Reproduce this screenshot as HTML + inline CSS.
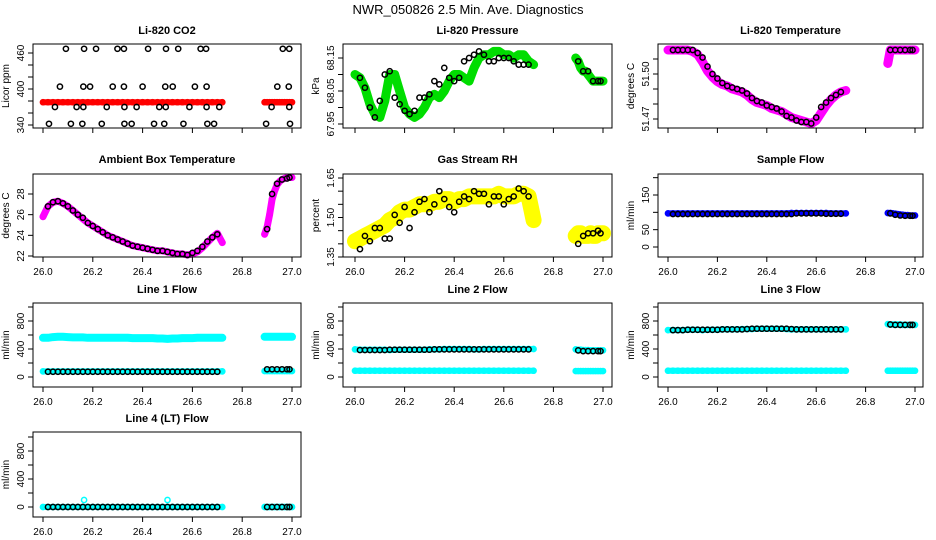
<!DOCTYPE html>
<html><head><meta charset="utf-8">
<style>
body{margin:0;background:#fff;}
svg{display:block;font-family:"Liberation Sans",sans-serif;}
</style></head>
<body>
<svg id="chart" width="936" height="540" viewBox="0 0 936 540" xmlns="http://www.w3.org/2000/svg">
<rect width="936" height="540" fill="#fff"/>
<text x="468" y="14" text-anchor="middle" font-size="13">NWR_050826  2.5 Min. Ave. Diagnostics</text>
</svg>
<script>
// shared time arrays
const timesC = [26.00,26.02,26.04,26.06,26.08,26.10,26.12,26.14,26.16,26.18,26.20,26.22,26.24,26.26,26.28,26.30,26.32,26.34,26.36,26.38,26.40,26.42,26.44,26.46,26.48,26.50,26.52,26.54,26.56,26.58,26.60,26.62,26.64,26.66,26.68,26.70,26.72,
  26.89,26.90,26.91,26.92,26.93,26.94,26.95,26.96,26.97,26.98,26.99,27.00];
const timesB = [26.02,26.04,26.06,26.08,26.10,26.12,26.14,26.16,26.18,26.20,26.22,26.24,26.26,26.28,26.30,26.32,26.34,26.36,26.38,26.40,26.42,26.44,26.46,26.48,26.50,26.52,26.54,26.56,26.58,26.60,26.62,26.64,26.66,26.68,26.70,
  26.90,26.92,26.94,26.96,26.98,26.99];
const xTicks = [26.0,26.2,26.4,26.6,26.8,27.0];
const xTickLabels = ["26.0","26.2","26.4","26.6","26.8","27.0"];

// CO2
const co2Colored = [378,378,378,378,378,378,378,378,378,378,378,378,378,378,378,378,378,378,378,378,378,378,378,378,378,378,378,378,378,378,378,378,378,378,378,378,378, 378,378,378,378,378,378,378,378,378,378,378,378];
const co2BlackT = [26.092,26.165,26.213,26.299,26.325,26.422,26.494,26.543,26.633,26.655,26.963,26.989,
  26.068,26.162,26.189,26.280,26.325,26.400,26.491,26.521,26.610,26.657,26.941,26.987,
  26.048,26.135,26.162,26.256,26.327,26.376,26.467,26.493,26.588,26.657,26.708,26.918,26.989,
  26.024,26.112,26.158,26.236,26.327,26.356,26.446,26.487,26.564,26.660,26.687,26.896,26.992];
const co2BlackV = [467,467,467,467,467,467,467,467,467,467,467,467,
  404,404,404,404,404,404,404,404,404,404,404,404,
  370,370,370,370,370,370,370,370,370,370,370,370,370,
  342,342,342,342,342,342,342,342,342,342,342,342,342];
// Pressure
const presColored = [68.10,68.09,68.06,68.01,67.98,67.97,68.02,68.10,68.10,68.05,68.00,67.98,67.97,67.98,68.00,68.03,68.04,68.03,68.05,68.08,68.10,68.10,68.09,68.08,68.12,68.15,68.16,68.16,68.17,68.17,68.16,68.16,68.15,68.16,68.16,68.14,68.13,
  68.15,68.14,68.12,68.11,68.11,68.10,68.09,68.08,68.08,68.08,68.08,68.08];
const presBlack = [68.09,68.06,68.00,67.97,68.02,68.10,68.11,68.03,68.01,67.99,67.98,67.99,68.03,68.03,68.04,68.08,68.07,68.12,68.09,68.08,68.09,68.14,68.15,68.16,68.17,68.16,68.14,68.14,68.15,68.15,68.15,68.14,68.13,68.13,68.13,
  68.14,68.11,68.11,68.08,68.08,68.08];
// Li-820 temperature
const tempColored = [51.516,51.516,51.516,51.516,51.516,51.515,51.513,51.508,51.502,51.498,51.495,51.493,51.492,51.490,51.489,51.488,51.486,51.483,51.481,51.480,51.479,51.477,51.476,51.475,51.473,51.471,51.470,51.469,51.468,51.467,51.469,51.474,51.479,51.483,51.486,51.488,51.489,
  51.507,51.516,51.516,51.516,51.516,51.516,51.516,51.516,51.516,51.516,51.516,51.516];
const tempBlack = [51.516,51.516,51.516,51.516,51.516,51.514,51.511,51.505,51.500,51.497,51.494,51.492,51.491,51.490,51.489,51.487,51.484,51.482,51.481,51.479,51.478,51.477,51.475,51.472,51.471,51.469,51.468,51.468,51.467,51.471,51.478,51.481,51.484,51.486,51.488,
  51.516,51.516,51.516,51.516,51.516,51.516];
// Ambient box temperature
const ambColored = [25.8,26.8,27.2,27.3,27.1,26.8,26.4,26.0,25.6,25.2,24.9,24.6,24.3,24.0,23.8,23.6,23.4,23.2,23.0,22.9,22.8,22.7,22.6,22.5,22.5,22.4,22.3,22.2,22.2,22.1,22.2,22.4,22.8,23.3,23.8,24.2,23.3,
  24.1,24.8,26.0,27.5,28.3,28.9,29.2,29.4,29.5,29.6,29.6,29.6];
const ambBlack = [26.8,27.2,27.3,27.1,26.8,26.4,26.0,25.7,25.2,24.9,24.6,24.3,24.0,23.8,23.6,23.4,23.2,23.0,22.9,22.8,22.7,22.6,22.5,22.5,22.4,22.3,22.2,22.2,22.1,22.3,22.5,22.9,23.4,23.8,24.1,
  24.6,28.0,29.0,29.4,29.5,29.6];
// Gas stream RH
const rhColored = [1.41,1.42,1.43,1.44,1.45,1.46,1.47,1.49,1.50,1.52,1.53,1.53,1.54,1.55,1.55,1.55,1.56,1.56,1.57,1.57,1.56,1.57,1.57,1.58,1.58,1.58,1.58,1.58,1.58,1.59,1.58,1.58,1.58,1.59,1.59,1.58,1.49,
  1.43,1.44,1.44,1.43,1.43,1.43,1.44,1.43,1.43,1.44,1.44,1.44];
const rhBlack = [1.38,1.43,1.41,1.46,1.46,1.42,1.42,1.51,1.48,1.54,1.46,1.52,1.56,1.57,1.52,1.55,1.60,1.57,1.54,1.52,1.56,1.58,1.57,1.60,1.59,1.59,1.55,1.58,1.58,1.55,1.57,1.58,1.61,1.60,1.58,
  1.40,1.43,1.44,1.44,1.45,1.44];
// Sample flow
const sampleColored = [97,97,97,97,97,97,97,97,97,97,97,97,97,97,97,97,97,97,97,97,97,97,97,97,97,98,98,98,98,98,98,98,98,97,97,97,97,
  98,98,97,96,95,94,93,92,92,91,91,91];
const sampleBlack = [95,95,95,95,95,95,95,95,95,95,95,95,95,95,95,95,95,95,95,95,95,95,95,95,95,97,97,97,97,97,97,96,96,96,96,
  97,93,91,90,90,90];
// Line flows (colored high / colored low / black)
const line1High = [560,560,570,575,575,570,565,565,565,560,560,560,560,560,560,560,560,560,555,555,555,555,555,550,550,545,550,550,555,555,555,560,560,560,560,560,560,
  575,575,575,575,575,575,575,575,575,575,575,575];
const line1Low = [80,80,80,80,80,80,80,80,80,80,80,80,80,80,80,80,80,80,80,80,80,80,80,80,80,80,80,80,80,80,80,80,80,80,80,80,80, 85,85,85,85,85,85,85,85,85,85,85,85];
const line1Black = [75,75,75,75,75,75,75,75,75,75,75,75,75,75,75,75,75,75,75,75,75,75,75,75,75,75,75,75,75,75,75,75,75,75,75,
  110,110,110,110,110,110];
const line2High = [395,390,390,390,390,390,390,385,390,390,390,390,390,390,390,395,395,395,400,400,400,400,400,400,395,395,400,400,400,400,400,400,400,400,400,400,400,
  395,390,390,385,385,385,380,380,380,380,380,380];
const line2Low = [90,90,90,90,90,90,90,90,90,90,90,90,90,90,90,90,90,90,90,90,90,90,90,90,90,90,90,90,90,90,90,90,90,90,90,90,90, 85,85,85,85,85,85,85,85,85,85,85,85];
const line2Black = [385,385,385,385,385,385,390,390,390,390,390,390,390,390,390,395,395,395,395,395,395,395,395,395,395,395,395,395,395,395,395,395,395,395,395,
  380,370,370,370,370,370];
const line3High = [670,670,670,670,675,675,675,670,675,675,675,680,680,680,680,685,685,685,690,690,690,690,690,690,685,680,680,680,680,680,680,680,680,680,680,680,680,
  755,750,750,750,750,750,745,745,745,745,745,745];
const line3Low = [90,90,90,90,90,90,90,90,90,90,90,90,90,90,90,90,90,90,90,90,90,90,90,90,90,90,90,90,90,90,90,90,90,90,90,90,90, 90,90,90,90,90,90,90,90,90,90,90,90];
const line3Black = [670,670,670,675,675,675,675,675,675,675,680,680,680,680,680,685,690,690,690,690,690,690,690,690,685,680,680,680,680,680,680,680,680,680,680,
  750,745,745,745,745,745];
const line4Colored = [0,0,0,0,0,0,0,0,0,0,0,0,0,0,0,0,0,0,0,0,0,0,0,0,0,0,0,0,0,0,0,0,0,0,0,0,0, 0,0,0,0,0,0,0,0,0,0,0,0];
const line4OutlierT = [26.165,26.50];
const line4OutlierV = [100,100];
const line4Black = [0,0,0,0,0,0,0,0,0,0,0,0,0,0,0,0,0,0,0,0,0,0,0,0,0,0,0,0,0,0,0,0,0,0,0, 0,0,0,0,0,0];

const NS = "http://www.w3.org/2000/svg";
const svg = document.getElementById('chart');
function mk(tag, attrs, parent){ const e=document.createElementNS(NS,tag); for(const k in attrs) e.setAttribute(k,attrs[k]); (parent||svg).appendChild(e); return e; }

const cols = [{bx0:33,bx1:301,t0:43,t1:292},{bx0:343,bx1:612,t0:355,t1:603},{bx0:658,bx1:923,t0:668,t1:915}];
const rows = [{by0:44,by1:128,title:34,lab:false},{by0:174,by1:257,title:163,lab:true},{by0:303,by1:387,title:293,lab:true},{by0:432,by1:517,title:422,lab:true}];

function panel(opt){
  const c=cols[opt.col], r=rows[opt.row];
  const g=mk('g',{});
  
  
  const xs = t => c.t0 + (t-26)*(c.t1-c.t0);
  const ys = v => opt.p0 + (v-opt.v0)*(opt.p1-opt.p0)/(opt.v1-opt.v0);
  const ttl = mk('text',{x:(c.bx0+c.bx1)/2,y:r.title,'text-anchor':'middle','font-size':'11','font-weight':'bold'},g);
  ttl.textContent = opt.title;
  
  
  // data layer
  const segs = [[0,37],[37,timesC.length]];
  (opt.colored||[]).forEach(series=>{
    segs.forEach(([a,b])=>{
      let d='';
      for(let i=a;i<b;i++) d+=(i===a?'M':'L')+xs(timesC[i]).toFixed(1)+','+ys(series.v[i]).toFixed(1);
      const pl = mk('path',{d:d,fill:'none',stroke:series.color,'stroke-width':series.w||6,'stroke-linejoin':'round','stroke-linecap':'round'},g);
      
      
    });
    for(let i=0;i<timesC.length;i++){
      const cc = mk('circle',{cx:xs(timesC[i]),cy:ys(series.v[i]),r:2.6,fill:'none',stroke:series.color,'stroke-width':1.5},g);
      
      
    }
  });
  (opt.extraColored||[]).forEach(ex=>{
    for(let i=0;i<ex.t.length;i++){
      const cc = mk('circle',{cx:xs(ex.t[i]),cy:ys(ex.v[i]),r:2.6,fill:'none',stroke:ex.color,'stroke-width':1.5},g);
      
      
    }
  });
  if(opt.black){
    const bt = opt.blackT||timesB;
    for(let i=0;i<bt.length;i++){
      const cc = mk('circle',{cx:xs(bt[i]),cy:ys(opt.black[i]),r:2.6,fill:'none',stroke:'#000','stroke-width':1.5},g);
      
      
    }
  }
  // box
  const box = mk('rect',{x:c.bx0,y:r.by0,width:c.bx1-c.bx0,height:r.by1-r.by0,fill:'none',stroke:'#000','stroke-width':1},g);
  
  
  // x axis
  const ax = mk('g',{},g);
  
  
  mk('line',{x1:xs(xTicks[0]),x2:xs(xTicks[xTicks.length-1]),y1:r.by1,y2:r.by1,stroke:'#000'},ax);
  xTicks.forEach((t,i)=>{
    mk('line',{x1:xs(t),x2:xs(t),y1:r.by1,y2:r.by1+5,stroke:'#000'},ax);
    if(r.lab){ const tx=mk('text',{x:xs(t),y:r.by1+18,'text-anchor':'middle','font-size':'10'},ax); tx.textContent=xTickLabels[i]; }
  });
  // y axis
  const ay = mk('g',{},g);
  
  
  mk('line',{x1:c.bx0,x2:c.bx0,y1:ys(opt.yt[0]),y2:ys(opt.yt[opt.yt.length-1]),stroke:'#000'},ay);
  opt.yt.forEach((v,i)=>{
    mk('line',{x1:c.bx0-5,x2:c.bx0,y1:ys(v),y2:ys(v),stroke:'#000'},ay);
    if(opt.yl[i]){ const tx=mk('text',{x:0,y:0,'text-anchor':'middle','font-size':'10',transform:`translate(${c.bx0-9},${ys(v)}) rotate(-90)`},ay); tx.textContent=opt.yl[i]; }
  });
  const yt = mk('text',{x:0,y:0,'text-anchor':'middle','font-size':'10',transform:`translate(${c.bx0-24},${(r.by0+r.by1)/2}) rotate(-90)`},g);
  yt.textContent = opt.ytitle;
  
  
}

const cyan='#00ffff';
panel({name:'co2-panel',col:0,row:0,title:'Li-820 CO2',ytitle:'Licor ppm',v0:340,v1:460,p0:125,p1:53,
  yt:[340,360,380,400,420,440,460],yl:['340','','','400','','','460'],
  colored:[{v:co2Colored,color:'#ff0000'}],black:co2BlackV,blackT:co2BlackT});
panel({name:'pressure-panel',col:1,row:0,title:'Li-820 Pressure',ytitle:'kPa',v0:67.95,v1:68.15,p0:124,p1:58,
  yt:[67.95,68.00,68.05,68.10,68.15],yl:['67.95','','68.05','','68.15'],
  colored:[{v:presColored,color:'#00dd00',w:9}],black:presBlack});
panel({name:'li820-temperature-panel',col:2,row:0,title:'Li-820 Temperature',ytitle:'degrees C',v0:51.47,v1:51.50,p0:119,p1:74,
  yt:[51.47,51.48,51.49,51.50,51.51],yl:['51.47','','','51.50',''],
  colored:[{v:tempColored,color:'#ff00ff',w:9}],black:tempBlack});
panel({name:'ambient-temperature-panel',col:0,row:1,title:'Ambient Box Temperature',ytitle:'degrees C',v0:22,v1:28,p0:256,p1:194,
  yt:[22,24,26,28],yl:['22','24','26','28'],
  colored:[{v:ambColored,color:'#ff00ff',w:7}],black:ambBlack});
panel({name:'rh-panel',col:1,row:1,title:'Gas Stream RH',ytitle:'percent',v0:1.35,v1:1.65,p0:257,p1:178,
  yt:[1.35,1.40,1.45,1.50,1.55,1.60,1.65],yl:['1.35','','','1.50','','','1.65'],
  colored:[{v:rhColored,color:'#ffff00',w:16}],black:rhBlack});
panel({name:'sample-flow-panel',col:2,row:1,title:'Sample Flow',ytitle:'ml/min',v0:0,v1:150,p0:247,p1:195,
  yt:[0,50,100,150,200],yl:['0','50','','150',''],
  colored:[{v:sampleColored,color:'#0000ff',w:6}],black:sampleBlack});
panel({name:'line1-flow-panel',col:0,row:2,title:'Line 1 Flow',ytitle:'ml/min',v0:0,v1:800,p0:377,p1:321,
  yt:[0,200,400,600,800,1000],yl:['0','','400','','800',''],
  colored:[{v:line1High,color:cyan,w:8},{v:line1Low,color:cyan,w:6}],black:line1Black});
panel({name:'line2-flow-panel',col:1,row:2,title:'Line 2 Flow',ytitle:'ml/min',v0:0,v1:800,p0:377,p1:321,
  yt:[0,200,400,600,800,1000],yl:['0','','400','','800',''],
  colored:[{v:line2High,color:cyan,w:6},{v:line2Low,color:cyan,w:6}],black:line2Black});
panel({name:'line3-flow-panel',col:2,row:2,title:'Line 3 Flow',ytitle:'ml/min',v0:0,v1:800,p0:377,p1:321,
  yt:[0,200,400,600,800,1000],yl:['0','','400','','800',''],
  colored:[{v:line3High,color:cyan,w:6},{v:line3Low,color:cyan,w:6}],black:line3Black});
panel({name:'line4-flow-panel',col:0,row:3,title:'Line 4 (LT) Flow',ytitle:'ml/min',v0:0,v1:800,p0:507,p1:451,
  yt:[0,200,400,600,800,1000],yl:['0','','400','','800',''],
  colored:[{v:line4Colored,color:cyan,w:6}],extraColored:[{t:line4OutlierT,v:line4OutlierV,color:cyan}],black:line4Black});
</script>
</body></html>
